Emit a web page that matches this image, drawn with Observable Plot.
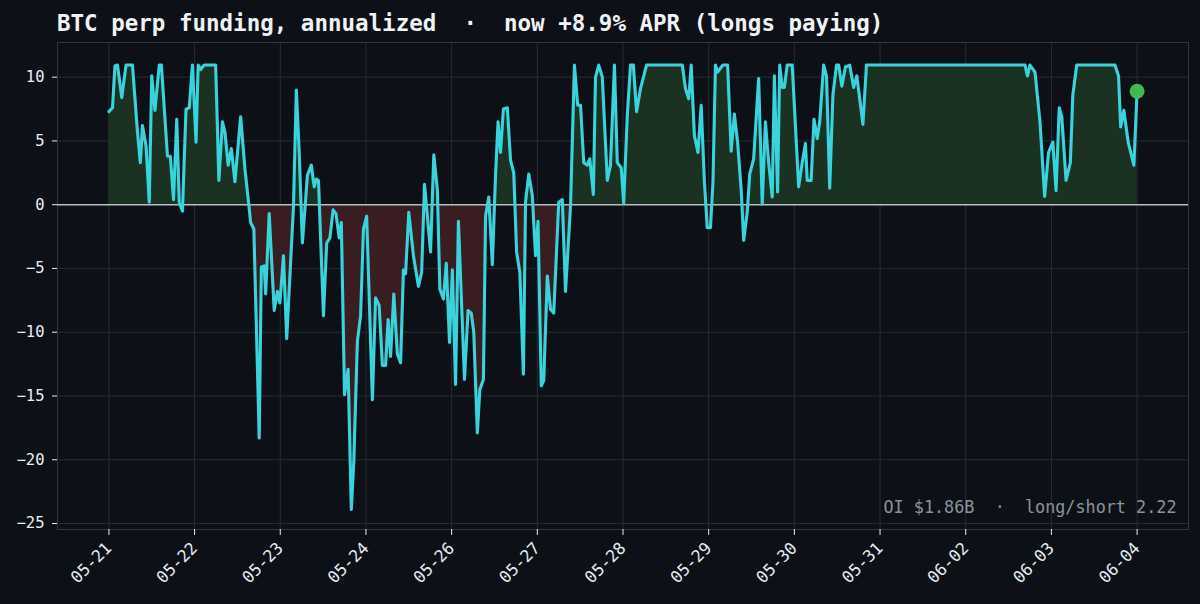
<!DOCTYPE html>
<html><head><meta charset="utf-8">
<script src="https://cdn.jsdelivr.net/npm/d3@7"></script>
<script src="https://cdn.jsdelivr.net/npm/@observablehq/plot@0.6"></script>
<style>
html,body{margin:0;padding:0;background:#0d1117;}
#wrap{position:relative;width:1200px;height:604px;overflow:hidden;background:#0d1117;}
#title{position:absolute;left:57px;top:8px;font-family:"DejaVu Sans Mono",monospace;font-weight:bold;font-size:22.5px;line-height:30px;color:#f0f3f6;white-space:pre;}
#chart{position:absolute;left:0;top:0;}
</style></head><body>
<div id="wrap"><div id="chart"></div><div id="title">BTC perp funding, annualized  ·  now +8.9% APR (longs paying)</div></div>
<script>
// hours since 05-21 00:00 (index axis)
const hours = [0,1.0,1.7,2.4,3.6,4.8,6.6,8.0,8.8,9.4,
10.4,11.3,12.0,12.9,14.1,14.7,16.4,17.2,18.1,19.0,
19.7,20.6,21.6,22.5,23.4,24.4,25.0,25.7,26.7,29.9,
30.8,31.8,32.5,33.4,34.3,35.3,36.9,38.1,39.3,39.7,
40.6,42.1,42.7,43.5,43.9,44.9,46.3,47.2,47.9,48.9,
49.8,50.9,51.7,52.5,53.3,54.2,55.6,56.7,57.5,58.1,
58.7,60.1,61.0,61.9,62.8,63.6,64.5,65.1,66.0,67.0,
67.9,68.6,69.6,70.5,71.3,72.2,73.8,74.7,75.7,76.6,
77.5,78.2,78.9,79.8,80.8,81.7,82.5,83.1,84.0,85.3,
86.7,87.6,88.4,89.2,90.1,91.0,92.0,92.7,93.7,94.5,
95.4,96.2,97.1,97.9,99.6,100.6,101.5,102.2,103.2,103.9,
104.9,105.5,106.4,107.4,108.3,109.0,109.7,110.5,111.6,112.5,
113.4,114.2,115.1,116.1,116.7,117.6,118.6,119.5,120.2,121.1,
121.8,122.8,123.7,124.6,126.0,127.0,127.9,129.3,130.4,131.3,
132.1,133.0,134.0,134.7,135.7,136.3,137.2,138.2,139.6,140.5,
141.6,142.4,143.5,144.2,145.2,146.1,146.9,147.8,148.9,150.6,
160.6,161.5,162.4,163.1,164.0,165.0,165.9,166.8,167.6,168.5,
169.2,169.9,170.5,171.3,172.0,173.3,174.3,175.2,176.1,177.1,
177.8,178.8,179.5,180.6,182.0,183.0,183.9,184.8,185.8,186.4,
187.3,187.9,188.6,189.2,190.0,191.4,193.2,194.2,195.1,195.6,
196.7,197.5,198.4,199.1,200.2,201.0,201.9,202.8,203.8,204.4,
205.3,206.3,207.5,208.6,209.5,211.2,212.2,256.6,257.3,258.0,
259.4,260.8,262.1,263.2,264.4,265.3,266.2,266.9,268.1,269.3,
270.0,271.1,281.8,282.8,283.4,284.3,285.5,287.1,288];

// annualized funding, % APR
const funding = [7.3,7.6,10.9,10.95,8.4,10.95,10.95,5.7,3.3,6.2,
4.6,0.2,10.1,7.4,10.95,10.95,3.8,3.8,0.4,6.7,
0.2,-0.5,7.5,7.6,10.95,4.9,10.95,10.6,10.95,10.95,
1.9,6.5,5.7,3.1,4.4,1.8,6.9,2.8,-0.3,-1.4,
-1.9,-18.3,-4.9,-4.8,-7,-0.7,-8.3,-6.8,-7.7,-4.0,
-10.5,-4.5,-0.1,9.0,4.1,-3.0,2.3,3.1,1.4,2.0,
1.9,-8.7,-3.0,-2.6,-0.4,-0.7,-2.6,-1.4,-14.9,-12.9,
-23.9,-20.1,-10.7,-8.7,-1.9,-0.9,-15.3,-7.3,-7.9,-12.6,
-12.6,-9.0,-11.9,-7.0,-11.7,-12.4,-5.1,-5.4,-0.6,-4.0,
-6.4,-5.3,1.6,-0.9,-3.7,3.9,1.2,-6.6,-7.4,-4.6,
-10.8,-5.1,-14.1,-1.3,-13.7,-8.3,-8.5,-10.0,-17.9,-14.5,
-13.7,-0.9,0.6,-4.7,2.3,6.5,4.1,7.5,7.6,3.5,
2.5,-3.7,-5.3,-13.3,0.2,2.4,0.7,-4.0,-1.3,-14.2,
-13.8,-5.6,-8.2,-8.5,0.2,0.4,-6.8,-0.1,10.95,7.8,
7.8,3.3,3.1,3.6,0.8,10,10.95,10,1.9,3.1,
10.95,3.3,2.9,0.1,7.0,10.95,10.95,7.3,9.1,10.95,
10.95,9.1,8.3,10.95,5.4,4.1,7.8,1.8,-1.8,-1.8,
1.8,10.95,10.4,10.7,10.95,10.95,4.2,7.1,4.9,1.2,
-2.8,-0.6,2.4,3.6,9.9,0.05,6.5,3.3,0.6,10.1,
1.0,10.95,9.2,9.2,10.95,10.95,1.4,3.3,4.8,1.9,
1.9,6.7,5.2,6.5,10.95,10.1,1.3,8.6,10.95,10.95,
9.3,10.8,10.95,9.2,10.1,6.3,10.95,10.95,10.1,10.95,
10.4,6.5,0.65,4.1,4.9,1.1,7.6,6.9,1.9,3.3,
8.6,10.95,10.95,10.1,6.1,7.4,4.9,3.1,8.9];

const tickHours = [0,24,48,72,96,120,144,168,192,216,240,264,288];
const tickLabels = ["05-21","05-22","05-23","05-24","05-26","05-27","05-28","05-29","05-30","05-31","06-02","06-03","06-04"];
const yTicks = [-25,-20,-15,-10,-5,0,5,10];
const annotation = "OI $1.86B  ·  long/short 2.22";
const nowHour = 288;
const nowValue = 8.9;

const data = hours.map((h, i) => ({h, v: funding[i]}));
const W = 1200, H = 604;
const M = {top: 42, right: 12, bottom: 75, left: 57};
const font = "DejaVu Sans Mono, monospace";

const chart = Plot.plot({
  width: W, height: H,
  marginTop: M.top, marginRight: M.right, marginBottom: M.bottom, marginLeft: M.left,
  style: {background: "#0d1117", color: "#e6edf3", fontFamily: font, fontSize: "15px", overflow: "visible"},
  x: {domain: [-14.4, 302.4]},
  y: {domain: [-25.47, 12.72]},
  marks: [
    Plot.gridX(tickHours, {stroke: "#2a2f37", strokeOpacity: 1, strokeWidth: 0.9}),
    Plot.gridY(yTicks, {stroke: "#2a2f37", strokeOpacity: 1, strokeWidth: 0.9}),
    Plot.frame({stroke: "#30363d", strokeWidth: 1}),
    Plot.areaY(data, {x: "h", y1: 0, y2: "v", fill: "url(#fundFill)", curve: "linear"}),
    Plot.ruleY([0], {stroke: "#b6bdc5", strokeWidth: 1.5}),
    Plot.lineY(data, {x: "h", y: "v", stroke: "#38d3db", strokeWidth: 3.1, strokeLinejoin: "round", strokeLinecap: "round"}),
    Plot.dot([{h: nowHour, v: nowValue}], {x: "h", y: "v", r: 7.5, fill: "#3fb950", stroke: "none"}),
    Plot.text([annotation], {frameAnchor: "bottom-right", dx: -12, dy: -17, fill: "#8b949e", fontSize: 16.8, fontFamily: font, textAnchor: "end", lineAnchor: "bottom"}),
    Plot.axisY(yTicks, {tickSize: 5, tickPadding: 8, fontSize: 15.5, color: "#e6edf3", label: null}),
    Plot.axisX(tickHours, {tickSize: 6, tickPadding: 10, tickRotate: -45, fontSize: 16.5, color: "#e6edf3", label: null,
      tickFormat: d => tickLabels[tickHours.indexOf(d)]})
  ]
});

// gradient: green above the zero line, red below, taken from the y scale
const yScale = chart.scale("y");
const zeroPx = yScale.apply(0);
const topPx = M.top, bottomPx = H - M.bottom;
const off = (zeroPx - topPx) / (bottomPx - topPx);
const ns = "http://www.w3.org/2000/svg";
const defs = document.createElementNS(ns, "defs");
const grad = document.createElementNS(ns, "linearGradient");
grad.setAttribute("id", "fundFill");
grad.setAttribute("gradientUnits", "userSpaceOnUse");
grad.setAttribute("x1", 0); grad.setAttribute("x2", 0);
grad.setAttribute("y1", topPx); grad.setAttribute("y2", bottomPx);
[[0, "#1b3223"], [off, "#1b3223"], [off, "#391d21"], [1, "#391d21"]].forEach(([o, c]) => {
  const s = document.createElementNS(ns, "stop");
  s.setAttribute("offset", o);
  s.setAttribute("stop-color", c);
  grad.appendChild(s);
});
defs.appendChild(grad);
chart.insertBefore(defs, chart.firstChild);
document.getElementById("chart").appendChild(chart);
</script>
</body></html>
